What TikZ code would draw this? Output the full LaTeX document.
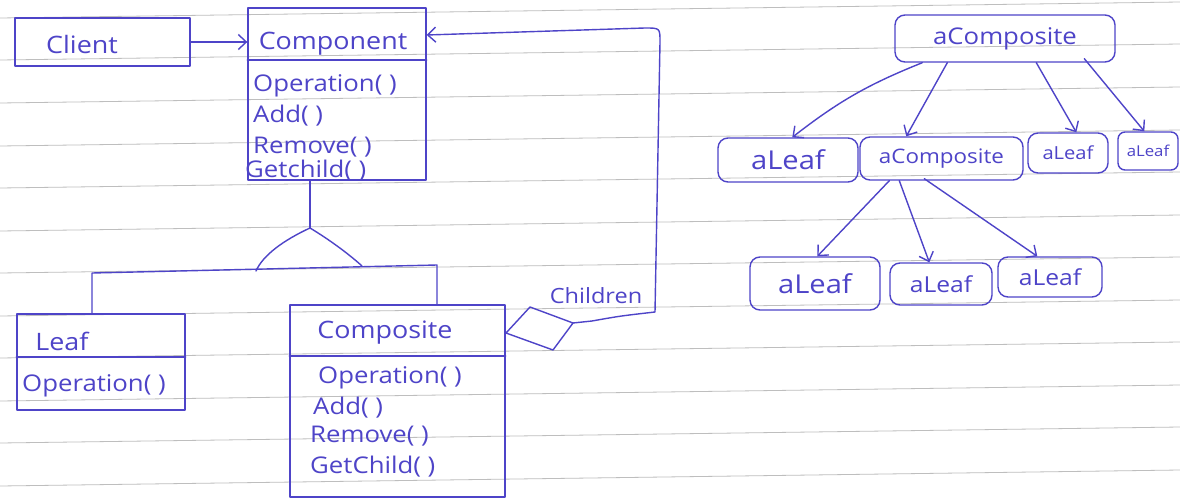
\documentclass[tikz,border=0pt]{standalone}
\usepackage{fontspec}
\setmainfont[FakeStretch=1.12]{Open Sans}
\usetikzlibrary{arrows.meta,calc}
\definecolor{ink}{RGB}{78,68,200}
\definecolor{rulegray}{RGB}{190,190,190}

\begin{document}
\begin{tikzpicture}[x=1pt,y=-1pt,
  pen/.style={draw=ink, line width=1.4pt, line cap=round, line join=round},
  arr/.style={pen, -{Straight Barb[length=8pt,width=15pt]}},
  classbox/.style={pen, rectangle, inner sep=0pt},
  objbox/.style={pen, rectangle, rounded corners=10pt, inner sep=0pt, text=ink},
  lbl/.style={text=ink, font=\fontsize{24}{26}\selectfont, inner sep=0pt},
  meth/.style={text=ink, font=\fontsize{23}{25}\selectfont, inner sep=0pt, anchor=west},
  ruling/.style={draw=rulegray, line width=0.8pt}]

% sheet of ruled paper
\fill[white] (0,0) rectangle (1180,503);
\useasboundingbox (0,0) rectangle (1180,503);
\foreach \y in {18,60,103,146,188,231,273,316,358,401,443,486}
  \draw[ruling] (0,\y) -- (1180,\y-16);

% ---------- class diagram ----------
\node[classbox, minimum width=175pt, minimum height=48pt] (client) at (102.5,42) {};
\node[lbl] (clientname) at (82,44) {Client};

\node[classbox, minimum width=178pt, minimum height=172pt] (comp) at (337,94) {};
\draw[pen] (comp.west |- 0,60) -- (comp.east |- 0,60);
\node[lbl] (compname) at (333,44) {Component};
\node[meth] (compop) at (253,86) {Operation( )};
\node[meth] (compadd) at (253,116) {Add( )};
\node[meth] (comprem) at (253,147) {Remove( )};
\node[meth] (compget) at (245,171) {Getchild( )};

\node[classbox, minimum width=168pt, minimum height=96pt] (leaf) at (101,362) {};
\draw[pen] (leaf.west |- 0,357) -- (leaf.east |- 0,357);
\node[lbl] (leafname) at (62,341) {Leaf};
\node[meth] (leafop) at (22,386) {Operation( )};

\node[classbox, minimum width=215pt, minimum height=192pt] (cmp) at (397.5,401) {};
\draw[pen] (cmp.west |- 0,356) -- (cmp.east |- 0,356);
\node[lbl] (cmpname) at (385,333) {Composite};
\node[meth] (cmpop) at (318,378) {Operation( )};
\node[meth] (cmpadd) at (313,408) {Add( )};
\node[meth] (cmprem) at (310,436) {Remove( )};
\node[meth] (cmpget) at (310,467) {GetChild( )};

% client uses component
\draw[arr] (client.east) -- (comp.west |- client.east);

% generalisation triangle and branches
\coordinate (apex) at (310,228);
\coordinate (tl) at (256,271);
\coordinate (tr) at (362,266);
\coordinate (barL) at (92,273);
\coordinate (barR) at (437,265);
\draw[pen] (apex |- comp.south) -- (apex);
\draw[pen] (apex) .. controls (284,240) and (263,255) .. (tl);
\draw[pen] (apex) .. controls (330,240) and (350,255) .. (tr);
\draw[pen] (leaf.north -| barL) -- (barL) -- (barR) -- (barR |- cmp.north);

% aggregation diamond and children link
\coordinate (dl) at (506,333);
\coordinate (dt) at (530,307);
\coordinate (dr) at (573,323);
\coordinate (db) at (553,350);
\draw[pen] (dl) -- (dt) -- (dr) -- (db) -- cycle;
\coordinate (up) at (655,312);
\coordinate (corner) at (660,28);
\draw[arr] (dr) -- (592,321) .. controls (620,316) .. (up)
  -- (660,42) .. controls (corner) .. (645,28) -- (comp.east |- 0,35);
\node[lbl, font=\fontsize{21}{23}\selectfont] (childlbl) at (596,296) {Children};

% ---------- object tree ----------
\node[objbox, minimum width=220pt, minimum height=47pt, font=\fontsize{23}{25}\selectfont] (t0) at (1005,38.5) {aComposite};
\node[objbox, minimum width=140pt, minimum height=44pt, font=\fontsize{26}{28}\selectfont] (l1) at (788,160) {aLeaf};
\node[objbox, minimum width=163pt, minimum height=43pt, font=\fontsize{20}{22}\selectfont] (c2) at (941.5,158.5) {aComposite};
\node[objbox, minimum width=80pt, minimum height=40pt, font=\fontsize{18}{20}\selectfont] (l2) at (1068,153) {aLeaf};
\node[objbox, minimum width=60pt, minimum height=38pt, rounded corners=7pt, font=\fontsize{15}{17}\selectfont] (l3) at (1148,151) {aLeaf};
\node[objbox, minimum width=130pt, minimum height=53pt, font=\fontsize{26}{28}\selectfont] (l4) at (815,283.5) {aLeaf};
\node[objbox, minimum width=102pt, minimum height=42pt, font=\fontsize{22}{24}\selectfont] (l5) at (941,284) {aLeaf};
\node[objbox, minimum width=104pt, minimum height=40pt, font=\fontsize{22}{24}\selectfont] (l6) at (1050,277) {aLeaf};

\draw[arr] ([xshift=28pt]t0.south west) to[bend right=8] ([xshift=75pt]l1.north west);
\draw[arr] ([xshift=53pt]t0.south west) -- ([xshift=47pt]c2.north west);
\draw[arr] ([xshift=142pt]t0.south west) -- ([xshift=49pt]l2.north west);
\draw[arr] ([xshift=190pt,yshift=4pt]t0.south west) -- ([xshift=27pt]l3.north west);
\draw[arr] ([xshift=30pt]c2.south west) -- ([xshift=68pt]l4.north west);
\draw[arr] ([xshift=40pt]c2.south west) -- ([xshift=40pt]l5.north west);
\draw[arr] ([xshift=65pt,yshift=2pt]c2.south west) -- ([xshift=40pt]l6.north west);
\end{tikzpicture}
\end{document}
